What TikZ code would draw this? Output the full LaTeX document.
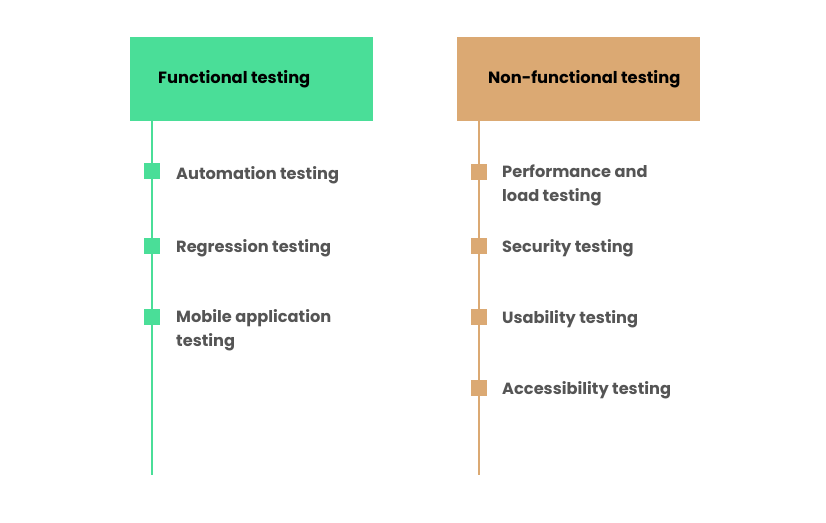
\documentclass[tikz,border=0pt]{standalone}
\usepackage{fontspec}
\setmainfont{Poppins}
\usetikzlibrary{positioning}
\definecolor{funcgreen}{HTML}{4ADE98}
\definecolor{nonfunctan}{HTML}{DBA973}
\definecolor{itemgray}{HTML}{555555}
\tikzset{
  header/.style={fill=#1, anchor=north west, minimum width=243pt, minimum height=84pt,
    inner sep=0pt},
  title/.style={anchor=west, inner sep=0pt, font=\bfseries\fontsize{16.3}{19}\selectfont},
  marker/.style={fill=#1, minimum size=16pt, inner sep=0pt},
  stem/.style={draw=#1, line width=2pt},
  item/.style={anchor=base west, text=itemgray, align=left, inner sep=0pt,
    font=\bfseries\fontsize{16.2}{23.5}\selectfont},
}
\begin{document}
\begin{tikzpicture}[x=1pt,y=-1pt]
\useasboundingbox (0,0) rectangle (826,522);
% functional
\node[header=funcgreen] (fhead) at (130,37) {};
\node[title, right=28pt of fhead.west] (ftitle) {Functional testing};
\coordinate (fend) at (152,475);
\draw[stem=funcgreen] ([xshift=22pt]fhead.south west) -- (fend);
\node[marker=funcgreen] (f1) at (152,171) {};
\node[marker=funcgreen] (f2) at (152,246) {};
\node[marker=funcgreen] (f3) at (152,317) {};
\node[item] (f1t) at (176,179) {Automation testing};
\node[item] (f2t) at (176,252) {Regression testing};
\node[item] (f3t) at (176,346) {Mobile application\\testing};
% non-functional
\node[header=nonfunctan] (nhead) at (457,37) {};
\node[title, right=31pt of nhead.west] (ntitle) {Non-functional testing};
\coordinate (nend) at (479,475);
\draw[stem=nonfunctan] ([xshift=22pt]nhead.south west) -- (nend);
\node[marker=nonfunctan] (n1) at (479,172) {};
\node[marker=nonfunctan] (n2) at (479,246) {};
\node[marker=nonfunctan] (n3) at (479,317) {};
\node[marker=nonfunctan] (n4) at (479,388) {};
\node[item] (n1t) at (502,201) {Performance and\\load testing};
\node[item] (n2t) at (502,252) {Security testing};
\node[item] (n3t) at (502,323) {Usability testing};
\node[item] (n4t) at (502,394) {Accessibility testing};
\end{tikzpicture}
\end{document}
